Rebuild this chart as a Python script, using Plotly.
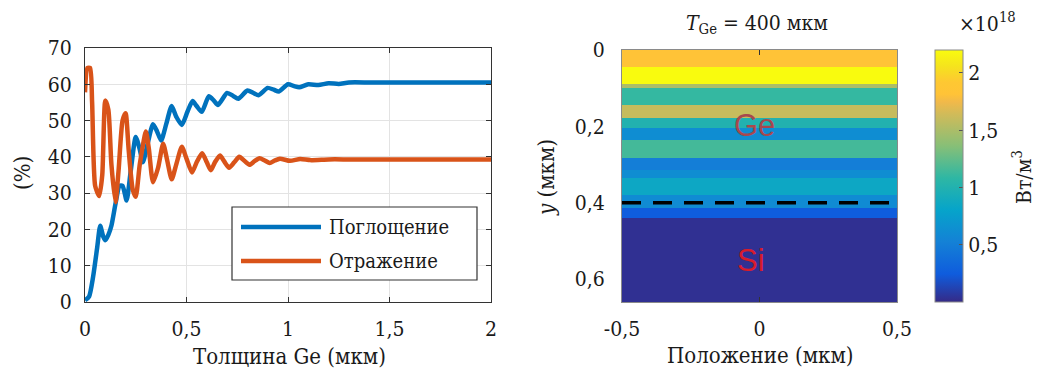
import plotly.graph_objects as go

# ---------------- data: left panel (A, R vs Ge thickness) ----------------
abs_x = [0, 0.02, 0.04, 0.06, 0.075, 0.09, 0.10, 0.115, 0.13, 0.15, 0.17, 0.185, 0.205,
         0.225, 0.25, 0.27, 0.285, 0.31, 0.335, 0.355, 0.375, 0.40, 0.427, 0.45, 0.477,
         0.505, 0.53, 0.55, 0.575, 0.61, 0.635, 0.655, 0.70, 0.73, 0.755, 0.80, 0.83,
         0.855, 0.90, 0.93, 0.955, 1.0, 1.03, 1.055, 1.10, 1.15, 1.2, 1.25, 1.3, 1.4,
         1.5, 1.6, 1.7, 1.8, 1.9, 2.0]
abs_y = [0.5, 1.5, 7, 15, 21, 18, 17, 18.5, 21, 27, 32, 32, 28,
         36, 45.5, 42, 38.5, 44, 49, 47, 44.5, 49, 54, 51, 48.8,
         52.5, 55.4, 54, 52.4, 56.7, 55.5, 54.3, 57.6, 56.8, 56, 58.3, 57.6,
         57, 59, 58.5, 58, 60, 59.5, 59.2, 60, 59.8, 60.3, 60.1, 60.5, 60.5,
         60.5, 60.5, 60.5, 60.5, 60.5, 60.5]

ref_x = [0, 0.012, 0.025, 0.035, 0.05, 0.07, 0.085, 0.10, 0.115, 0.13, 0.15, 0.165,
         0.185, 0.20, 0.215, 0.235, 0.25, 0.27, 0.30, 0.315, 0.335, 0.36, 0.385, 0.405,
         0.427, 0.45, 0.477, 0.5, 0.527, 0.55, 0.577, 0.6, 0.62, 0.64, 0.665, 0.685,
         0.71, 0.735, 0.76, 0.785, 0.81, 0.835, 0.86, 0.885, 0.91, 0.935, 0.96, 1.01,
         1.06, 1.11, 1.2, 1.3, 1.5, 1.75, 2.0]
ref_y = [57.8, 64.5, 64.5, 55, 32, 29.2, 35, 55.5, 53, 38, 27.5, 36,
         50, 52, 42, 31, 29, 38, 47, 42, 33, 37, 43.6, 39,
         33.8, 38, 42.8, 39.5, 35.7, 38.5, 41, 38.5, 36.3, 38.5, 40.4, 38.8,
         37, 38.5, 40, 38.9, 37.8, 38.8, 39.6, 39, 38.3, 39, 39.5, 38.9,
         39.4, 39.1, 39.3, 39.3, 39.3, 39.3, 39.3]

abs_name = "Поглощение"
ref_name = "Отражение"

x_ticks = [0, 0.5, 1, 1.5, 2]
x_ticktext = ["0", "0,5", "1", "1,5", "2"]
y_ticks = [0, 10, 20, 30, 40, 50, 60, 70]

# ---------------- data: right panel (absorbed power density map) ----------------
pos_edges = [-0.5, 0.5]
depth_edges = [0, 0.045, 0.088, 0.10, 0.145, 0.177, 0.203, 0.236, 0.283, 0.314,
               0.335, 0.379, 0.413, 0.439, 0.66]
power_vals = [1.82, 2.2, 1.5, 1.1, 1.6, 1.0, 0.62, 1.15, 0.5, 0.62, 0.85, 0.6, 0.25, 0.03]
ge_thickness = 0.4

pos_ticks = [-0.5, 0, 0.5]
pos_ticktext = ["-0,5", "0", "0,5"]
depth_ticks = [0, 0.2, 0.4, 0.6]
depth_ticktext = ["0", "0,2", "0,4", "0,6"]
cb_ticks = [0.5, 1, 1.5, 2]
cb_ticktext = ["0,5", "1", "1,5", "2"]

parula = [
    [0.0, "rgb(53,42,135)"], [0.111, "rgb(15,92,221)"], [0.238, "rgb(20,129,214)"],
    [0.365, "rgb(6,164,202)"], [0.492, "rgb(46,183,164)"], [0.619, "rgb(135,191,119)"],
    [0.746, "rgb(209,187,89)"], [0.794, "rgb(241,185,74)"], [0.825, "rgb(255,195,55)"],
    [0.873, "rgb(254,200,50)"], [0.937, "rgb(245,228,29)"], [1.0, "rgb(249,251,14)"],
]

# page body has an 8px margin: size the figure so it fits the 1050x369 window
OFF = 8
W, H = 1050 - OFF, 369 - OFF
def px(x):
    return (x - OFF) / W
def py(y):
    return 1 - (y - OFF) / H

FONT = "DejaVu Serif Condensed"
SANS = "Liberation Sans"
TXT = "#1a1a1a"
BLUE = "#0072BD"
ORANGE = "#D95319"

fig = go.Figure()

fig.add_trace(go.Scatter(x=abs_x, y=abs_y, mode="lines", name=abs_name,
                         line=dict(color=BLUE, width=4.5, shape="spline", smoothing=0.6),
                         xaxis="x", yaxis="y", showlegend=False))
fig.add_trace(go.Scatter(x=ref_x, y=ref_y, mode="lines", name=ref_name,
                         line=dict(color=ORANGE, width=4.5, shape="spline", smoothing=0.6),
                         xaxis="x", yaxis="y", showlegend=False))

fig.add_trace(go.Heatmap(
    x=pos_edges, y=depth_edges, z=[[v] for v in power_vals],
    colorscale=parula, zmin=0, zmax=2.2, xaxis="x2", yaxis="y2",
    colorbar=dict(x=px(935), xanchor="left", y=py(176), yanchor="middle",
                  len=252 / H, lenmode="fraction", thickness=28, thicknessmode="pixels",
                  xpad=0, ypad=0, outlinewidth=1, outlinecolor="#8a8a8a",
                  tickvals=cb_ticks, ticktext=cb_ticktext, ticks="inside", ticklen=4,
                  tickcolor="#555",
                  tickfont=dict(family=FONT, size=21, color=TXT)),
    hoverinfo="skip"))

axis_common = dict(showline=True, mirror="ticks", linecolor="#333", linewidth=1,
                   ticks="inside", ticklen=5, tickcolor="#333", automargin=False,
                   tickfont=dict(family=FONT, size=21, color=TXT), zeroline=False)

fig.update_layout(
    width=W, height=H, margin=dict(l=0, r=0, t=0, b=0, autoexpand=False),
    paper_bgcolor="white", plot_bgcolor="white",
    font=dict(family=FONT, color=TXT),
    xaxis=dict(domain=[px(85), px(491)], range=[0, 2], tickvals=x_ticks, ticktext=x_ticktext,
               showgrid=True, gridcolor="#e3e3e3", anchor="y", ticklabelstandoff=8, **axis_common),
    yaxis=dict(domain=[py(302), py(48)], range=[0, 70], tickvals=y_ticks,
               showgrid=True, gridcolor="#e3e3e3", anchor="x", ticklabelstandoff=8, **axis_common),
    xaxis2=dict(domain=[px(622), px(897)], range=[-0.5, 0.5], tickvals=pos_ticks,
                ticktext=pos_ticktext, showgrid=False, anchor="y2", ticklabelstandoff=8,
                **{**axis_common, "linecolor": "#8a8a8a"}),
    yaxis2=dict(domain=[py(302), py(50)], range=[0.66, 0], tickvals=depth_ticks,
                ticktext=depth_ticktext, showgrid=False, anchor="x2", ticklabelstandoff=12,
                **{**axis_common, "linecolor": "#8a8a8a", "ticklen": 0}),
)

# manual legend (MATLAB-style long line samples)
leg_box = dict(x0=232, x1=477, y0=207, y1=280)
fig.add_shape(type="rect", xref="paper", yref="paper",
              x0=px(leg_box["x0"]), x1=px(leg_box["x1"]),
              y0=py(leg_box["y1"]), y1=py(leg_box["y0"]),
              line=dict(color="#333", width=1.2), fillcolor="white", layer="above")
for name, col, yy in [(abs_name, BLUE, 227), (ref_name, ORANGE, 261)]:
    fig.add_shape(type="line", xref="paper", yref="paper",
                  x0=px(241), x1=px(321), y0=py(yy), y1=py(yy),
                  line=dict(color=col, width=4.5), layer="above")
    fig.add_annotation(xref="paper", yref="paper", x=px(327), y=py(yy), text=name,
                       showarrow=False, xanchor="left", yanchor="middle",
                       font=dict(family=FONT, size=20, color=TXT))

# interface line at Ge thickness
fig.add_shape(type="line", xref="x2", yref="y2", x0=pos_edges[0], x1=pos_edges[-1],
              y0=ge_thickness, y1=ge_thickness,
              line=dict(color="black", width=3.5, dash="19px,12px"))

# material labels
fig.add_annotation(xref="x2", yref="y2", x=-0.02, y=0.197, text="Ge", showarrow=False,
                   font=dict(family=SANS, size=31, color="#a8484e"))
fig.add_annotation(xref="x2", yref="y2", x=-0.03, y=0.55, text="Si", showarrow=False,
                   font=dict(family=SANS, size=31, color="#d81c2c"))

# titles / labels
ann = [
    (289, 356, "Толщина Ge (мкм)", 0, 22),
    (22, 173, "(%)", -90, 22),
    (760, 355, "Положение (мкм)", 0, 22),
    (547, 178, "<i>y</i> (мкм)", -90, 22),
    (757, 24, "<i>T</i><sub>Ge</sub> = 400 мкм", 0, 21),
    (987, 22, "×10<sup>18</sup>", 0, 21),
    (1022, 177, "Вт/м<sup>3</sup>", -90, 21),
]
for x, y, t, ang, fs in ann:
    fig.add_annotation(xref="paper", yref="paper", x=px(x), y=py(y), text=t, showarrow=False,
                       textangle=ang, xanchor="center", yanchor="middle",
                       font=dict(family=FONT, size=fs, color=TXT))

fig.write_html("out.html")
